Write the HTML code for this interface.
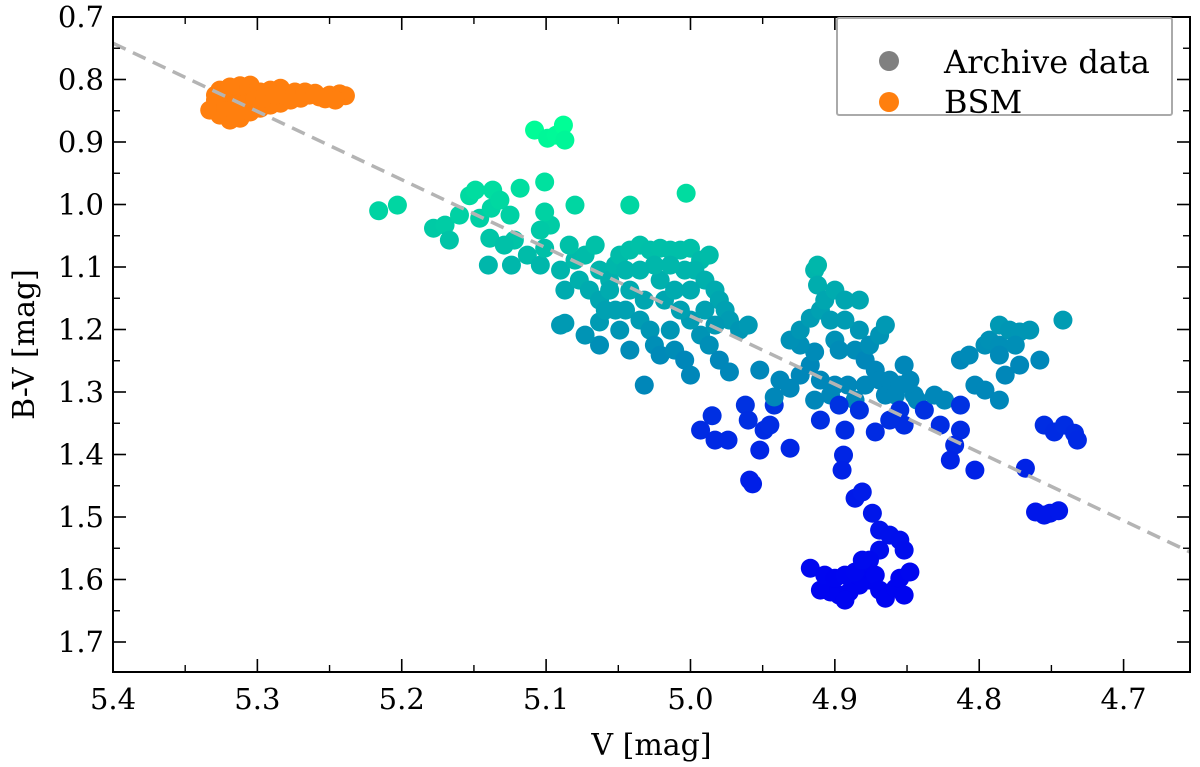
<!DOCTYPE html>
<html><head><meta charset="utf-8"><style>
html,body{margin:0;padding:0;background:#fff;width:1200px;height:767px;overflow:hidden}
svg{display:block;font-family:"DejaVu Serif","Liberation Serif",serif}
</style></head><body>
<svg id="chart" width="1200" height="767" viewBox="0 0 1200 767" xmlns="http://www.w3.org/2000/svg">
<defs><clipPath id="plotclip"><rect x="113" y="17" width="1077" height="655"/></clipPath></defs>
<g id="grid-marks" clip-path="url(#plotclip)"></g>
<g id="axes"></g>
</svg>
<script>
const xTicks=[5.4,5.3,5.2,5.1,5.0,4.9,4.8,4.7];
const xTickLabels=["5.4","5.3","5.2","5.1","5.0","4.9","4.8","4.7"];
const yTicks=[0.7,0.8,0.9,1.0,1.1,1.2,1.3,1.4,1.5,1.6,1.7];
const yTickLabels=["0.7","0.8","0.9","1.0","1.1","1.2","1.3","1.4","1.5","1.6","1.7"];
const fitLine=[[5.4,0.742],[4.654,1.556]];
const bsmV=[5.329,5.333,5.326,5.319,5.312,5.305,5.298,5.291,5.284,5.277,5.270,5.264,5.257,5.250,5.243,5.239,5.326,5.319,5.312,5.305,5.298,5.291,5.284,5.305,5.312,5.319,5.329,5.322,5.316,5.309,5.302,5.295,5.288,5.281,5.274,5.267,5.260,5.253,5.246,5.322,5.315];
const bsmBV=[.833,.849,.857,.865,.862,.852,.846,.841,.838,.833,.830,.825,.828,.825,.823,.826,.817,.820,.825,.825,.820,.817,.814,.809,.810,.812,.825,.841,.841,.841,.833,.830,.825,.825,.820,.820,.822,.831,.833,.850,.855];
const archV=[5.216,5.203,5.178,5.170,5.167,5.160,5.153,5.149,5.137,5.139,5.146,5.138,5.132,5.125,5.118,5.101,5.122,5.129,5.124,5.113,5.104,5.101,5.097,5.080,5.101,5.104,5.090,5.087,5.077,5.070,5.063,5.080,5.084,5.073,5.066,5.063,5.056,5.052,5.049,5.042,5.035,5.028,5.021,5.014,5.007,5.000,4.993,4.987,4.997,4.990,4.983,4.980,4.976,4.973,4.966,4.960,5.063,5.045,5.035,5.056,5.042,5.032,5.028,5.025,5.021,5.032,5.042,5.049,5.014,5.011,5.004,5.000,4.993,4.987,4.980,4.973,5.000,4.990,4.983,5.007,5.018,5.021,5.011,5.000,5.004,5.014,5.025,5.035,5.045,5.052,5.059,5.063,5.140,5.073,5.090,5.087,5.042,5.003,5.108,5.099,5.093,5.088,5.087,
4.993,4.985,4.983,4.974,4.962,4.959,4.957,4.960,4.952,4.949,4.945,4.942,4.942,4.931,4.952,4.938,4.931,4.924,4.917,4.914,4.924,4.931,4.924,4.917,4.910,4.903,4.900,4.897,4.910,4.903,4.914,4.910,4.914,4.912,4.912,4.907,4.900,4.893,4.883,4.883,4.893,4.886,4.879,4.872,4.876,4.869,4.865,4.886,4.883,4.897,4.900,4.891,4.879,4.869,4.865,4.858,4.862,4.855,4.848,4.845,4.855,4.852,4.862,4.872,4.893,4.894,4.886,4.843,4.852,4.838,4.827,4.831,4.824,4.813,4.803,4.796,4.786,4.813,4.807,4.796,4.793,4.786,4.786,4.779,4.772,4.765,4.782,4.772,4.813,4.817,4.803,4.786,4.775,4.758,4.820,4.742,4.768,4.755,4.748,4.741,4.734,4.732,4.761,4.755,4.751,4.745,
4.895,4.881,4.874,4.869,4.862,4.855,4.852,4.869,4.876,4.879,4.876,4.883,4.890,4.897,4.903,4.910,4.917,4.907,4.900,4.893,4.886,4.872,4.869,4.865,4.858,4.855,4.848,4.852,4.893,4.881];
const archBV=[1.010,1.001,1.038,1.033,1.057,1.017,0.986,0.977,0.977,1.054,1.022,1.006,0.993,1.017,0.974,0.964,1.057,1.065,1.097,1.081,1.097,1.070,1.033,1.001,1.012,1.041,1.105,1.137,1.121,1.137,1.153,1.089,1.065,1.081,1.065,1.105,1.121,1.097,1.081,1.073,1.065,1.073,1.070,1.073,1.073,1.070,1.089,1.081,1.105,1.121,1.137,1.153,1.169,1.185,1.201,1.193,1.188,1.169,1.185,1.137,1.137,1.153,1.201,1.225,1.241,1.289,1.233,1.201,1.201,1.233,1.249,1.273,1.209,1.225,1.249,1.268,1.185,1.169,1.193,1.169,1.153,1.121,1.137,1.137,1.105,1.097,1.097,1.105,1.105,1.169,1.169,1.225,1.097,1.209,1.193,1.190,1.001,0.982,0.881,0.894,0.889,0.873,0.897,
1.361,1.338,1.377,1.377,1.321,1.441,1.447,1.345,1.393,1.361,1.353,1.321,1.308,1.390,1.265,1.281,1.294,1.273,1.257,1.236,1.225,1.217,1.201,1.182,1.169,1.185,1.217,1.233,1.281,1.305,1.313,1.345,1.105,1.097,1.129,1.153,1.137,1.153,1.153,1.201,1.185,1.233,1.249,1.265,1.225,1.209,1.193,1.313,1.329,1.321,1.289,1.289,1.289,1.281,1.305,1.305,1.281,1.289,1.281,1.305,1.329,1.353,1.345,1.364,1.361,1.401,1.470,1.313,1.257,1.329,1.353,1.305,1.313,1.321,1.289,1.297,1.313,1.249,1.241,1.225,1.217,1.225,1.193,1.201,1.204,1.201,1.273,1.257,1.361,1.385,1.425,1.241,1.225,1.249,1.409,1.185,1.422,1.353,1.364,1.353,1.366,1.377,1.492,1.497,1.494,1.490,
1.425,1.460,1.494,1.521,1.529,1.537,1.553,1.553,1.569,1.585,1.601,1.609,1.620,1.625,1.620,1.617,1.582,1.593,1.598,1.593,1.588,1.593,1.617,1.630,1.614,1.598,1.588,1.625,1.633,1.569];

const NS='http://www.w3.org/2000/svg';
const L=113,R=1190,T=17,B=672;
const xMin=5.4,xMax=4.654,yMin=0.7,yMax=1.748;
function xs(v){return L+(v-xMin)/(xMax-xMin)*(R-L);}
function ys(v){return T+(v-yMin)/(yMax-yMin)*(B-T);}
function mk(tag,attrs,parent){const e=document.createElementNS(NS,tag);for(const k in attrs)e.setAttribute(k,attrs[k]);parent.appendChild(e);return e;}
const marks=document.getElementById('grid-marks');
const axes=document.getElementById('axes');
function lerp(a,b,t){return Math.round(a+(b-a)*t);}
function colorFor(bv){
 let t=Math.max(0,Math.min(1,(bv-0.87)/0.38));
 if(t<=1&&bv<1.32){return `rgb(0,${lerp(255,135,t)},${lerp(150,185,t)})`;}
 let u=Math.max(0,Math.min(1,(bv-1.32)/0.28));
 return `rgb(0,${lerp(50,5,u)},${lerp(225,240,u)})`;
}
for(let i=0;i<archV.length;i++){
 const c=mk('circle',{cx:xs(archV[i]),cy:ys(archBV[i]),r:9.5,fill:colorFor(archBV[i])},marks);
 
 
}
for(let i=0;i<bsmV.length;i++){
 const c=mk('circle',{cx:xs(bsmV[i]),cy:ys(bsmBV[i]),r:9.5,fill:'#ff7f0e'},marks);
 
 
}
const fl=mk('line',{x1:xs(fitLine[0][0]),y1:ys(fitLine[0][1]),x2:xs(fitLine[1][0]),y2:ys(fitLine[1][1]),stroke:'#b4b4b4','stroke-width':3.5,'stroke-dasharray':'14,8'},marks);


const fr=mk('rect',{x:L,y:T,width:R-L,height:B-T,fill:'none',stroke:'#000','stroke-width':2},axes);


for(let i=0;i<xTicks.length;i++){
 const x=xs(xTicks[i]);
 mk('line',{x1:x,y1:B,x2:x,y2:B-13,stroke:'#000','stroke-width':1.6},axes);
 mk('line',{x1:x,y1:T,x2:x,y2:T+13,stroke:'#000','stroke-width':1.6},axes);
 const t=mk('text',{x:x,y:B+37,'text-anchor':'middle','font-size':29},axes);t.textContent=xTickLabels[i];
 
 
 const m=xTicks[i]-0.05;
 if(m>xMax){const xm=xs(m);mk('line',{x1:xm,y1:B,x2:xm,y2:B-7,stroke:'#000','stroke-width':1.4},axes);mk('line',{x1:xm,y1:T,x2:xm,y2:T+7,stroke:'#000','stroke-width':1.4},axes);}
}
for(let i=0;i<yTicks.length;i++){
 const y=ys(yTicks[i]);
 mk('line',{x1:L,y1:y,x2:L+13,y2:y,stroke:'#000','stroke-width':1.6},axes);
 mk('line',{x1:R,y1:y,x2:R-13,y2:y,stroke:'#000','stroke-width':1.6},axes);
 const t=mk('text',{x:L-9,y:y+10,'text-anchor':'end','font-size':29},axes);t.textContent=yTickLabels[i];
 
 
 const m=yTicks[i]+0.05;
 if(m<yMax){const ym=ys(m);mk('line',{x1:L,y1:ym,x2:L+7,y2:ym,stroke:'#000','stroke-width':1.4},axes);mk('line',{x1:R,y1:ym,x2:R-7,y2:ym,stroke:'#000','stroke-width':1.4},axes);}
}
const xt=mk('text',{x:(L+R)/2,y:755,'text-anchor':'middle','font-size':30},axes);xt.textContent='V [mag]';


const yt=mk('text',{x:0,y:0,'text-anchor':'middle','font-size':30,transform:`translate(34,${(T+B)/2}) rotate(-90)`},axes);yt.textContent='B-V [mag]';


const lg=mk('g',{},axes);


mk('rect',{x:837,y:18,width:335,height:97,fill:'#fff',stroke:'#aaa','stroke-width':2,rx:2},lg);
const e1=mk('g',{},lg);


mk('circle',{cx:889,cy:61,r:10,fill:'#808080'},e1);
const t1=mk('text',{x:944,y:73,'font-size':32},e1);t1.textContent='Archive data';
const e2=mk('g',{},lg);


mk('circle',{cx:889,cy:102,r:10,fill:'#ff7f0e'},e2);
const t2=mk('text',{x:944,y:113,'font-size':32},e2);t2.textContent='BSM';
</script>
</body></html>
